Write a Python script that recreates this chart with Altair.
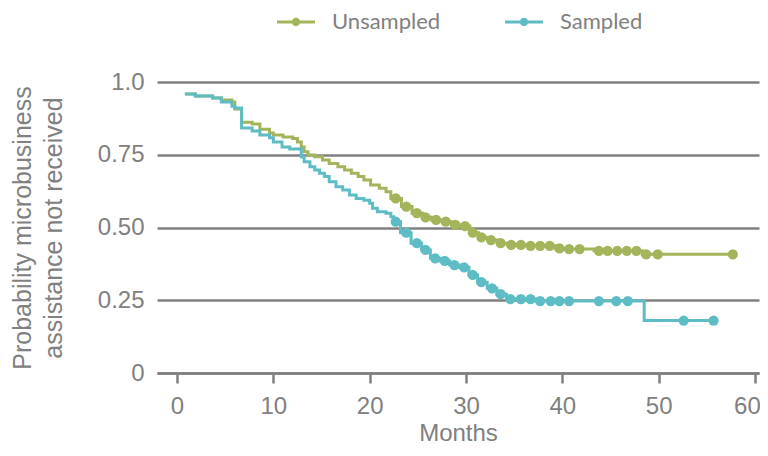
import altair as alt
import pandas as pd

# ---- data ----
series_names = ["Unsampled", "Sampled"]
series_colors = ["#A3B55A", "#5EBDC4"]

unsampled_months = [0.9, 1.9, 3.7, 4.6, 5.7, 6.0, 6.7, 7.8, 8.6, 9.6, 10.0, 11.0, 12.0, 12.5,
                    12.9, 13.2, 13.6, 14.3, 15.1, 15.8, 16.7, 17.4, 18.1, 18.8, 19.4, 20.1,
                    21.0, 21.7, 22.2, 23.3, 24.4, 25.5, 26.4, 27.5, 28.5, 29.5, 30.4, 31.3,
                    32.3, 33.3, 34.3, 36.3, 39.3, 40.4, 43.3, 48.3, 57.7]
unsampled_surv = [0.959, 0.952, 0.945, 0.938, 0.931, 0.907, 0.862, 0.856, 0.838, 0.825, 0.818,
                  0.811, 0.806, 0.794, 0.777, 0.760, 0.749, 0.743, 0.732, 0.720, 0.709, 0.698,
                  0.686, 0.675, 0.663, 0.646, 0.635, 0.623, 0.600, 0.572, 0.549, 0.535, 0.526,
                  0.520, 0.509, 0.505, 0.482, 0.466, 0.457, 0.446, 0.440, 0.437, 0.428, 0.426,
                  0.420, 0.408, 0.408]
unsampled_cens_months = [22.7, 23.8, 24.9, 25.8, 26.9, 27.9, 28.9, 29.9, 30.7, 31.6, 32.6, 33.6,
                         34.7, 35.7, 36.7, 37.7, 38.7, 39.7, 40.7, 41.8, 43.8, 44.7, 45.7,
                         46.7, 47.7, 48.7, 49.9, 57.7]
unsampled_cens_surv = [0.600, 0.572, 0.549, 0.535, 0.526, 0.520, 0.509, 0.505, 0.482, 0.466,
                       0.457, 0.446, 0.440, 0.440, 0.437, 0.437, 0.437, 0.428, 0.426, 0.426,
                       0.420, 0.420, 0.420, 0.420, 0.420, 0.408, 0.408, 0.408]

sampled_months = [0.8, 1.9, 3.7, 4.6, 5.7, 6.0, 6.7, 7.8, 8.6, 9.6, 10.0, 10.9, 11.7, 12.9,
                  13.2, 13.8, 14.3, 14.8, 15.3, 15.8, 16.5, 17.2, 17.9, 18.6, 19.4, 20.0,
                  20.3, 20.8, 21.7, 22.2, 22.5, 23.2, 24.3, 25.4, 26.3, 27.3, 28.3, 29.3,
                  30.3, 31.2, 32.2, 33.2, 34.2, 37.2, 48.5, 55.7]
sampled_surv = [0.959, 0.952, 0.945, 0.931, 0.917, 0.911, 0.842, 0.832, 0.818, 0.808, 0.794,
                0.777, 0.770, 0.742, 0.726, 0.709, 0.698, 0.686, 0.675, 0.657, 0.640, 0.629,
                0.612, 0.600, 0.594, 0.583, 0.566, 0.554, 0.549, 0.537, 0.520, 0.482, 0.446,
                0.423, 0.394, 0.385, 0.371, 0.363, 0.337, 0.312, 0.291, 0.271, 0.254, 0.247,
                0.180, 0.180]
sampled_cens_months = [22.7, 23.8, 24.9, 25.8, 26.8, 27.8, 28.8, 29.8, 30.7, 31.6, 32.7, 33.6,
                       34.6, 35.7, 36.7, 37.7, 38.8, 39.7, 40.7, 43.8, 45.6, 46.8, 52.6, 55.7]
sampled_cens_surv = [0.520, 0.482, 0.446, 0.423, 0.394, 0.385, 0.371, 0.363, 0.337, 0.312,
                     0.291, 0.271, 0.254, 0.254, 0.254, 0.247, 0.247, 0.247, 0.247, 0.247,
                     0.247, 0.247, 0.180, 0.180]

y_ticks = [0, 0.25, 0.5, 0.75, 1.0]
x_ticks = [0, 10, 20, 30, 40, 50, 60]

# ---- tables ----
steps = pd.concat([
    pd.DataFrame({"group": "Unsampled", "month": unsampled_months, "surv": unsampled_surv}),
    pd.DataFrame({"group": "Sampled", "month": sampled_months, "surv": sampled_surv}),
])
cens = pd.concat([
    pd.DataFrame({"group": "Unsampled", "month": unsampled_cens_months, "surv": unsampled_cens_surv}),
    pd.DataFrame({"group": "Sampled", "month": sampled_cens_months, "surv": sampled_cens_surv}),
])

GRAY = "#808080"
sym_path = ("M-1,-0.085 L1,-0.085 L1,0.085 L-1,0.085 Z "
            "M0.22,0 A0.22,0.22 0 1,1 -0.22,0 A0.22,0.22 0 1,1 0.22,0 Z")

legend = alt.Legend(title=None, orient="none", legendX=120, legendY=-79,
                    direction="horizontal", symbolType=sym_path,
                    symbolSize=1444, symbolStrokeWidth=0, symbolFillColor=None,
                    labelFont="Lato", labelFontSize=22, labelColor=GRAY,
                    labelOffset=17, columnPadding=64, padding=0)

x_enc = alt.X("month:Q",
              scale=alt.Scale(domain=[-2.08, 60.42], nice=False, zero=False),
              axis=alt.Axis(values=x_ticks, title="Months", grid=False,
                            domainColor=GRAY, domainWidth=2.5, tickColor=GRAY,
                            tickWidth=2.5, tickSize=10, labelFontSize=24,
                            labelOffset={"condition": {"test": "datum.value == 60", "value": -8},
                                         "value": 0},
                            labelColor=GRAY, labelPadding=11, labelFont="Liberation Sans",
                            titleFont="Liberation Sans", titleFontSize=24,
                            titleFontWeight="normal", titleColor=GRAY, titlePadding=3))
y_enc = alt.Y("surv:Q",
              scale=alt.Scale(domain=[0, 1], nice=False),
              axis=alt.Axis(values=y_ticks, domain=False, ticks=False,
                            labelExpr="datum.value == 0 ? '0' : datum.value == 1 ? '1.0' : format(datum.value, '.2f')",
                            gridColor=GRAY, gridWidth=2.5, labelFontSize=24,
                            labelColor=GRAY, labelPadding=13, labelFont="Liberation Sans",
                            title=["Probability microbusiness", "assistance not received"],
                            titleFont="Liberation Sans", titleFontSize=25,
                            titleFontWeight="normal", titleColor=GRAY,
                            titleLineHeight=31, titlePadding=31))

color_scale = alt.Scale(domain=series_names, range=series_colors)

lines = alt.Chart(steps).mark_line(interpolate="step-after", strokeWidth=3).encode(
    x=x_enc, y=y_enc,
    color=alt.Color("group:N", scale=color_scale, legend=legend),
    detail="group:N",
)

points = alt.Chart(cens).mark_point(filled=True, size=105, opacity=1).encode(
    x="month:Q", y="surv:Q",
    color=alt.Color("group:N", scale=color_scale, legend=legend),
)

chart = alt.layer(lines, points).properties(
    width=602, height=291,
    autosize=alt.AutoSizeParams(type="none"),
    padding={"left": 149, "top": 74, "right": 1, "bottom": 74},
).configure_view(stroke=None)

chart.save("out.html", embed_options={"renderer": "svg", "actions": False})
